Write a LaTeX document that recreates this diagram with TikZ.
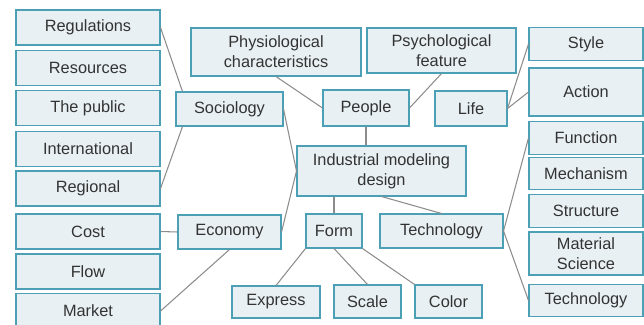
\documentclass[tikz,border=0pt]{standalone}
\usepackage{fontspec}
\setmainfont{Liberation Sans}
\usepackage{xcolor}
\usetikzlibrary{positioning}

\definecolor{boxfill}{HTML}{E8F0F4}
\definecolor{boxline}{HTML}{4BA0B5}
\definecolor{linkgray}{HTML}{8C8C8C}
\definecolor{textgray}{HTML}{333333}

\begin{document}
\begin{tikzpicture}[x=0.02cm, y=-0.02cm]
    \tikzstyle{box} = [rectangle, draw=boxline, line width=0.6pt, fill=boxfill, text=textgray, inner sep=0pt, align=center, font=\fontsize{9.3}{11.3}\selectfont]
    \tikzstyle{leftbox} = [box, minimum width=2.88cm, minimum height=0.7cm]
    \tikzstyle{rightbox} = [box, minimum width=2.28cm, minimum height=0.65cm]
    \tikzstyle{link} = [draw=linkgray, line width=0.6pt]

    \useasboundingbox (0,0) rectangle (644,324);
    \clip (0,0) rectangle (644,324);

    % left column
    \node[leftbox] (reg) at (88,27.5) {Regulations};
    \node[leftbox] (res) at (88,68) {Resources};
    \node[leftbox] (pub) at (88,108) {The public};
    \node[leftbox] (intl) at (88,149) {International};
    \node[leftbox] (regn) at (88,188.5) {Regional};
    \node[leftbox] (cost) at (88,231.5) {Cost};
    \node[leftbox] (flow) at (88,271.5) {Flow};
    \node[leftbox] (market) at (88,311) {Market};

    % middle
    \node[box, minimum width=2.14cm, minimum height=0.68cm] (soc) at (229.5,109) {Sociology};
    \node[box, minimum width=2.06cm, minimum height=0.68cm] (econ) at (229.5,232) {Economy};
    \node[box, minimum width=3.4cm, minimum height=0.96cm] (phys) at (276,52) {Physiological\\characteristics};
    \node[box, minimum width=2.98cm, minimum height=0.9cm] (psych) at (441.5,50.5) {Psychological\\feature};
    \node[box, minimum width=1.72cm, minimum height=0.72cm] (people) at (366,108) {People};
    \node[box, minimum width=1.44cm, minimum height=0.7cm] (life) at (471,108.5) {Life};
    \node[box, minimum width=3.38cm, minimum height=1cm] (ind) at (381.5,171) {Industrial modeling\\design};
    \node[box, minimum width=1.12cm, minimum height=0.68cm] (form) at (334,231) {Form};
    \node[box, minimum width=2.46cm, minimum height=0.68cm] (tech) at (441.5,231) {Technology};
    \node[box, minimum width=1.76cm, minimum height=0.64cm] (express) at (276,302) {Express};
    \node[box, minimum width=1.34cm, minimum height=0.66cm] (scale) at (367.5,301.5) {Scale};
    \node[box, minimum width=1.34cm, minimum height=0.66cm] (color) at (448.5,301.5) {Color};

    % right column
    \node[rightbox] (style) at (586,44) {Style};
    \node[rightbox, minimum height=0.96cm] (action) at (586,92) {Action};
    \node[rightbox] (func) at (586,138) {Function};
    \node[rightbox] (mech) at (586,173.5) {Mechanism};
    \node[rightbox] (struct) at (586,211) {Structure};
    \node[rightbox, minimum height=0.86cm] (mat) at (586,253.5) {Material\\Science};
    \node[rightbox] (tech2) at (586,300.5) {Technology};

    % connectors
    \draw[link] (reg.east) -- ([xshift=0.14cm]soc.north west);
    \draw[link] (regn.east) -- ([xshift=0.14cm]soc.south west);
    \draw[link] (soc.east) -- (ind.west);
    \draw[link] (econ.east) -- (ind.west);
    \draw[link] (cost.east) -- (econ.west);
    \draw[link] (econ.south) -- (market.east);
    \draw[link] (phys.south) -- (people.west);
    \draw[link] (psych.south) -- (people.east);
    \draw[link] (people.south) -- (people.south |- ind.north);
    \draw[link] (life.east) -- (style.west);
    \draw[link] (life.east) -- (action.west);
    \draw[link] (form.north) -- (form.north |- ind.south);
    \draw[link] (ind.south) -- (tech.north);
    \draw[link] (tech.east) -- (func.west);
    \draw[link] (tech.east) -- (tech2.west);
    \draw[link] (form.south west) -- (express.north);
    \draw[link] (form.south) -- (scale.north);
    \draw[link] (form.south east) -- (color.north west);
\end{tikzpicture}
\end{document}
